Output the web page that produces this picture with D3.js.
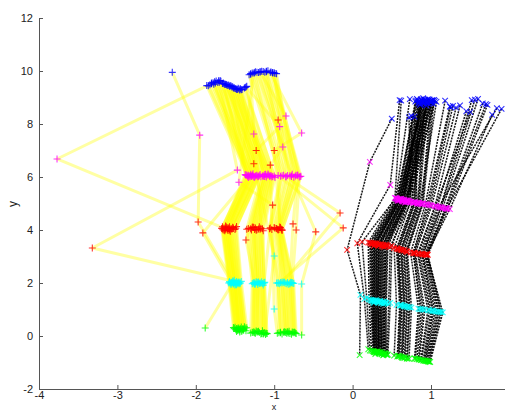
<!DOCTYPE html>
<html>
<head>
<meta charset="utf-8">
<script src="https://cdn.jsdelivr.net/npm/d3@7"></script>
<style>
  body { margin: 0; background: #fff; }
  svg { display: block; font-family: "Liberation Sans", Arial, sans-serif; }
</style>
</head>
<body>
<svg id="chart" width="505" height="412"></svg>
<script>
// Axis ticks
const xTicks = [-4, -3, -2, -1, 0, 1];
const yTicks = [-2, 0, 2, 4, 6, 8, 10, 12];

// Left figure: one entry per trial, markers "+" joined by yellow lines
const plusBlue = [
  [-1.84,9.44],[-1.80,9.55],[-1.77,9.50],[-1.74,9.62],[-1.72,9.57],[-1.69,9.64],[-1.66,9.53],[-1.63,9.49],
  [-1.60,9.45],[-1.57,9.42],[-1.54,9.40],[-1.50,9.34],[-1.47,9.30],[-1.43,9.33],[-1.82,9.48],[-1.68,9.61],
  [-1.86,9.45],[-1.78,9.56],[-1.71,9.63],[-1.64,9.52],[-1.59,9.47],[-1.52,9.36],[-1.76,9.59],
  [-1.62,9.50],[-1.58,9.46],[-1.55,9.43],[-1.51,9.37],[-1.48,9.31],[-1.44,9.28],[-1.41,9.30],[-1.38,9.36],
  [-1.35,9.42],[-1.65,9.55],[-1.53,9.41],[-1.46,9.35],
  [-1.61,9.49],[-1.56,9.44],[-1.49,9.33],[-1.42,9.29],[-1.37,9.38],
  [-1.32,9.86],[-1.28,9.92],[-1.24,9.97],[-1.20,9.94],[-1.16,9.99],[-1.12,9.95],[-1.08,10.01],[-1.04,9.96],
  [-1.00,9.93],[-0.97,9.90],[-1.30,9.90],[-1.18,9.97],[-1.10,9.99],[-1.02,9.92],
  [-2.30,9.95],[-1.80,9.52],[-1.70,9.58],[-1.10,9.97],[-1.25,9.93],[-1.14,9.98],[-1.05,9.95],[-1.30,9.88],
  [-1.22,9.95],[-1.36,9.40],[-1.26,9.92],[-1.18,9.96],[-1.75,9.55],[-1.02,9.94],[-0.99,9.91],[-1.45,9.32]
];
const plusMagenta = [
  [-1.32,6.05],[-1.29,6.02],[-1.35,6.08],[-1.26,6.00],[-1.30,6.10],[-1.24,6.04],[-1.33,5.98],[-1.22,6.07],
  [-1.27,6.12],[-1.20,6.03],[-1.36,6.06],[-1.18,6.09],[-1.25,5.99],[-1.23,6.05],[-1.31,6.01],[-1.28,6.08],
  [-1.34,6.03],[-1.28,6.06],[-1.21,6.01],[-1.37,6.09],[-1.19,6.05],[-1.27,6.03],[-1.33,6.07],
  [-1.15,6.04],[-1.10,6.00],[-1.12,6.09],[-1.06,6.03],[-1.08,6.11],[-1.02,6.02],[-1.04,6.06],[-0.99,5.98],
  [-1.14,6.05],[-1.17,6.01],[-1.09,6.07],[-1.05,6.04],
  [-1.13,6.02],[-1.07,6.08],[-1.03,6.00],[-1.11,6.10],[-1.00,6.04],
  [-0.92,6.03],[-0.88,6.07],[-0.85,6.00],[-0.80,6.05],[-0.77,6.10],[-0.73,6.04],[-0.70,6.08],[-0.67,6.02],
  [-0.83,6.06],[-0.75,5.99],[-0.90,6.05],[-0.78,6.02],[-0.72,6.07],[-0.66,6.03],
  [-1.95,7.58],[-3.77,6.68],[-1.47,6.26],[-0.85,6.02],[-0.95,6.06],[-0.78,6.04],[-0.65,7.66],[-1.26,7.62],
  [-0.89,7.13],[-0.93,7.90],[-1.45,5.80],[-0.85,8.30],[-1.30,6.05],[-0.70,6.05],[-0.68,6.00],[-1.12,6.02]
];
const plusRed = [
  [-1.64,4.08],[-1.60,4.03],[-1.66,4.12],[-1.57,4.00],[-1.62,4.15],[-1.55,4.06],[-1.59,3.98],[-1.53,4.10],
  [-1.58,4.05],[-1.50,4.02],[-1.65,4.00],[-1.48,4.13],[-1.56,3.95],[-1.52,4.08],[-1.61,4.11],[-1.63,4.01],
  [-1.67,4.06],[-1.59,4.09],[-1.54,4.03],[-1.66,4.04],[-1.49,4.07],[-1.57,4.12],[-1.63,3.97],
  [-1.30,4.05],[-1.25,4.02],[-1.28,4.10],[-1.20,4.04],[-1.23,3.99],[-1.17,4.07],[-1.19,4.12],[-1.14,3.97],
  [-1.33,4.06],[-1.35,4.03],[-1.26,4.09],[-1.22,4.01],
  [-1.29,4.00],[-1.24,4.08],[-1.18,4.03],[-1.27,4.11],[-1.15,4.05],
  [-1.06,4.05],[-1.03,4.02],[-1.00,4.09],[-0.97,4.06],[-0.95,4.00],[-0.93,4.11],[-0.91,4.04],[-0.90,3.98],
  [-0.99,4.07],[-0.94,4.02],[-1.05,4.08],[-0.96,4.03],[-0.92,4.09],[-0.90,4.01],
  [-1.97,4.30],[-1.62,4.04],[-3.32,3.32],[-0.16,4.64],[-0.12,4.08],[-0.47,3.93],[-1.00,7.00],[-1.26,6.50],
  [-1.05,6.45],[-1.23,7.00],[-1.02,4.94],[-0.95,8.15],[-1.91,3.89],[-0.76,4.23],[-0.72,4.00],[-1.36,3.62]
];
const plusCyan = [
  [-1.55,2.02],[-1.52,1.98],[-1.57,2.05],[-1.49,1.95],[-1.53,2.08],[-1.47,2.00],[-1.50,1.92],[-1.45,2.04],
  [-1.51,2.10],[-1.44,1.97],[-1.56,1.99],[-1.42,2.06],[-1.48,1.93],[-1.46,2.01],[-1.54,2.03],[-1.52,1.96],
  [-1.58,2.00],[-1.50,2.02],[-1.46,1.97],[-1.57,2.04],[-1.43,2.00],[-1.48,2.06],[-1.55,1.94],
  [-1.27,1.99],[-1.24,1.96],[-1.22,2.03],[-1.19,1.98],[-1.21,1.94],[-1.16,2.05],[-1.18,2.00],[-1.14,1.92],
  [-1.26,2.02],[-1.28,1.97],[-1.20,2.04],[-1.17,1.99],
  [-1.25,1.95],[-1.21,2.01],[-1.15,1.98],[-1.23,2.05],[-1.13,2.01],
  [-0.97,2.00],[-0.93,1.97],[-0.90,2.04],[-0.86,1.99],[-0.83,2.02],[-0.80,1.96],[-0.78,2.01],[-0.76,1.98],
  [-0.88,2.03],[-0.82,1.95],[-0.95,2.02],[-0.84,1.97],[-0.79,2.03],[-0.75,1.99],
  [-1.52,2.05],[-1.50,2.00],[-1.45,2.02],[-0.90,2.00],[-0.95,1.98],[-0.65,1.96],[-0.87,2.03],[-1.00,3.02],
  [-1.00,1.02],[-1.12,2.03],[-1.13,2.00],[-0.92,2.02],[-1.54,2.00],[-0.80,1.99],[-0.77,2.02],[-1.25,2.00]
];
const plusGreen = [
  [-1.48,0.28],[-1.45,0.22],[-1.50,0.33],[-1.42,0.18],[-1.46,0.30],[-1.40,0.25],[-1.44,0.15],[-1.38,0.35],
  [-1.43,0.27],[-1.36,0.20],[-1.49,0.24],[-1.35,0.31],[-1.41,0.19],[-1.39,0.26],[-1.47,0.21],[-1.45,0.29],
  [-1.52,0.32],[-1.44,0.24],[-1.39,0.22],[-1.51,0.28],[-1.37,0.30],[-1.42,0.34],[-1.48,0.17],
  [-1.28,0.14],[-1.24,0.10],[-1.20,0.18],[-1.17,0.08],[-1.22,0.15],[-1.13,0.12],[-1.15,0.20],[-1.11,0.06],
  [-1.26,0.16],[-1.30,0.11],[-1.19,0.13],[-1.16,0.09],
  [-1.25,0.12],[-1.21,0.16],[-1.14,0.10],[-1.23,0.19],[-1.09,0.09],
  [-0.94,0.12],[-0.90,0.08],[-0.87,0.16],[-0.84,0.10],[-0.81,0.18],[-0.78,0.07],[-0.75,0.14],[-0.73,0.11],
  [-0.86,0.13],[-0.80,0.09],[-0.92,0.14],[-0.82,0.11],[-0.77,0.15],[-0.72,0.09],
  [-1.88,0.30],[-1.45,0.25],[-1.40,0.28],[-0.85,0.15],[-0.92,0.12],[-0.65,0.04],[-0.83,0.16],[-1.12,0.12],
  [-0.96,0.10],[-1.10,0.10],[-1.14,0.08],[-0.88,0.14],[-1.47,0.26],[-0.76,0.12],[-0.74,0.14],[-1.27,0.13]
];

// Right figure: one entry per trial, markers "x" joined by dotted black lines
const crossBlue = [
  [0.80,8.85],[0.83,8.90],[0.85,8.80],[0.87,8.93],[0.89,8.86],[0.91,8.78],[0.93,8.91],[0.95,8.84],
  [0.97,8.88],[0.99,8.82],[1.01,8.90],[1.03,8.76],[0.82,8.95],[0.86,8.72],[0.90,8.97],[0.94,8.70],
  [0.98,8.93],[1.05,8.87],
  [0.81,8.88],[0.84,8.83],[0.88,8.91],[0.92,8.86],[0.96,8.94],[1.00,8.80],[1.02,8.89],[0.87,8.75],
  [0.91,8.92],[0.95,8.79],
  [0.72,8.25],[0.75,8.30],[0.88,8.83],[0.92,8.89],[0.96,8.80],[1.00,8.86],[1.04,8.91],[0.84,8.78],
  [1.07,8.84],[0.79,8.28],[0.86,8.85],[0.94,8.82],[1.02,8.88],
  [1.18,8.88],[1.25,8.65],[1.32,8.62],[1.37,8.70],[1.45,8.48],[1.52,8.90],[1.60,8.95],[1.66,8.78],
  [1.72,8.72],[1.78,8.35],[1.84,8.60],[1.90,8.57],[1.28,8.68],[1.56,8.92],[1.70,8.75],
  [0.50,8.20],[0.60,8.90],[0.73,8.94],[0.62,8.88],[1.50,8.45],[1.24,8.66]
];
const crossMagenta = [
  [0.57,5.15],[0.60,5.12],[0.62,5.18],[0.64,5.08],[0.66,5.14],[0.58,5.10],[0.68,5.11],[0.70,5.06],
  [0.61,5.16],[0.72,5.09],[0.63,5.13],[0.74,5.05],[0.56,5.19],[0.65,5.07],[0.59,5.17],[0.67,5.04],
  [0.69,5.12],[0.71,5.10],
  [0.58,5.13],[0.62,5.15],[0.63,5.10],[0.66,5.12],[0.60,5.16],[0.68,5.08],[0.70,5.11],[0.64,5.14],
  [0.57,5.18],[0.69,5.07],
  [0.74,5.06],[0.77,5.03],[0.80,5.05],[0.83,5.00],[0.85,5.02],[0.88,4.98],[0.90,5.01],[0.79,5.04],
  [0.86,4.99],[0.82,5.03],[0.78,5.04],[0.84,5.01],[0.89,4.99],
  [0.93,4.98],[0.97,4.95],[1.01,4.93],[1.05,4.90],[1.08,4.88],[1.12,4.85],[1.15,4.83],[1.18,4.82],
  [1.21,4.80],[1.24,4.79],[1.10,4.87],[1.20,4.81],[0.99,4.94],[1.13,4.86],[1.19,4.82],
  [0.22,6.57],[0.48,5.70],[0.55,5.20],[0.54,5.21],[1.06,4.91],[0.95,4.97]
];
const crossRed = [
  [0.24,3.48],[0.28,3.45],[0.31,3.50],[0.34,3.42],[0.36,3.46],[0.27,3.40],[0.39,3.44],[0.42,3.39],
  [0.30,3.47],[0.45,3.41],[0.33,3.43],[0.48,3.37],[0.22,3.52],[0.37,3.38],[0.26,3.49],[0.40,3.36],
  [0.43,3.45],[0.50,3.40],
  [0.25,3.47],[0.29,3.48],[0.32,3.44],[0.35,3.45],[0.28,3.50],[0.38,3.41],[0.41,3.43],[0.33,3.46],
  [0.23,3.51],[0.44,3.40],
  [0.53,3.32],[0.56,3.30],[0.59,3.27],[0.62,3.25],[0.65,3.22],[0.68,3.20],[0.70,3.18],[0.58,3.29],
  [0.66,3.24],[0.61,3.26],[0.57,3.30],[0.63,3.24],[0.69,3.19],
  [0.74,3.15],[0.77,3.13],[0.80,3.12],[0.83,3.10],[0.86,3.09],[0.89,3.08],[0.92,3.07],[0.94,3.06],
  [0.96,3.06],[0.95,3.10],[0.88,3.11],[0.93,3.08],[0.79,3.13],[0.90,3.08],[0.95,3.07],
  [-0.07,3.25],[0.06,3.50],[0.12,3.55],[0.20,3.53],[0.84,3.12],[0.78,3.14]
];
const crossCyan = [
  [0.25,1.33],[0.28,1.30],[0.30,1.35],[0.33,1.27],[0.35,1.31],[0.27,1.25],[0.38,1.29],[0.41,1.24],
  [0.31,1.32],[0.43,1.26],[0.34,1.28],[0.46,1.22],[0.23,1.36],[0.36,1.23],[0.26,1.34],[0.39,1.21],
  [0.40,1.30],[0.48,1.25],
  [0.26,1.31],[0.29,1.33],[0.32,1.29],[0.35,1.30],[0.28,1.34],[0.37,1.27],[0.40,1.28],[0.32,1.31],
  [0.24,1.35],[0.42,1.25],
  [0.56,1.18],[0.60,1.15],[0.63,1.16],[0.66,1.12],[0.69,1.10],[0.72,1.08],[0.75,1.07],[0.61,1.17],
  [0.70,1.11],[0.65,1.14],[0.62,1.16],[0.67,1.12],[0.73,1.09],
  [0.84,1.03],[0.88,1.01],[0.92,0.99],[0.96,0.97],[1.00,0.95],[1.03,0.94],[1.07,0.92],[1.10,0.91],
  [1.13,0.90],[1.15,0.89],[1.02,0.96],[1.09,0.93],[0.90,1.00],[1.05,0.93],[1.12,0.91],
  [0.10,1.55],[0.15,1.40],[0.18,1.45],[0.21,1.38],[0.98,0.98],[0.86,1.02]
];
const crossGreen = [
  [0.27,-0.60],[0.30,-0.63],[0.32,-0.58],[0.34,-0.66],[0.36,-0.61],[0.29,-0.68],[0.38,-0.64],[0.40,-0.70],
  [0.31,-0.59],[0.42,-0.67],[0.33,-0.62],[0.44,-0.72],[0.26,-0.57],[0.37,-0.69],[0.28,-0.60],[0.39,-0.73],
  [0.41,-0.65],[0.45,-0.70],
  [0.28,-0.62],[0.31,-0.60],[0.33,-0.64],[0.35,-0.63],[0.30,-0.59],[0.37,-0.66],[0.40,-0.67],[0.34,-0.61],
  [0.27,-0.58],[0.43,-0.69],
  [0.53,-0.74],[0.57,-0.78],[0.60,-0.76],[0.63,-0.81],[0.66,-0.83],[0.69,-0.85],[0.72,-0.86],[0.58,-0.75],
  [0.67,-0.80],[0.62,-0.79],[0.59,-0.77],[0.64,-0.82],[0.70,-0.85],
  [0.79,-0.84],[0.82,-0.87],[0.85,-0.89],[0.87,-0.91],[0.90,-0.93],[0.92,-0.94],[0.94,-0.95],[0.96,-0.96],
  [0.98,-0.97],[0.99,-0.98],[0.91,-0.92],[0.95,-0.95],[0.84,-0.88],[0.93,-0.94],[0.97,-0.96],
  [0.09,-0.72],[0.20,-0.50],[0.22,-0.55],[0.24,-0.56],[0.88,-0.90],[0.80,-0.86]
];

const markerColors = ["#0000ff", "#ff00ff", "#ff0000", "#00ffff", "#00ff00"];

const svg = d3.select("#chart");
const x = d3.scaleLinear().domain([-4, 2]).range([39, 509.4]);
const y = d3.scaleLinear().domain([-2, 12]).range([389, 18]);

// Axes (ticks pointing into the plot, no box)
const axisX = svg.append("g").attr("transform", "translate(0,389)")
  .call(d3.axisBottom(x).tickValues(xTicks).tickFormat(d => String(d))
    .tickSizeInner(-4).tickSizeOuter(0).tickPadding(2.5));
const axisY = svg.append("g").attr("transform", "translate(39,0)")
  .call(d3.axisLeft(y).tickValues(yTicks).tickFormat(d => String(d))
    .tickSizeInner(-4).tickSizeOuter(0).tickPadding(6));
[axisX, axisY].forEach(g => {
  g.selectAll("path, line").attr("stroke", "#555");
  g.selectAll("text").attr("fill", "#222").style("font-size", "11px")
    .style("font-family", "'Liberation Sans', Arial, sans-serif");
});

svg.append("text").attr("x", 274).attr("y", 410).attr("text-anchor", "middle")
  .attr("fill", "#222").style("font-size", "9px").text("x");
svg.append("text").attr("transform", "translate(17,204) rotate(-90)").attr("text-anchor", "middle")
  .attr("fill", "#222").style("font-size", "12px").text("y");

const line = d3.line().x(d => x(d[0])).y(d => y(d[1]));

// Regroup the per-joint arrays into one five-point path per trial
function trials(joints) {
  return joints[0].map((_, i) => joints.map(j => j[i]));
}

const plusJoints = [plusBlue, plusMagenta, plusRed, plusCyan, plusGreen];
const crossJoints = [crossBlue, crossMagenta, crossRed, crossCyan, crossGreen];

const plot = svg.append("g");

// Yellow connecting lines
plot.append("g").selectAll("path").data(trials(plusJoints)).join("path")
  .attr("d", line).attr("fill", "none")
  .attr("stroke", "#ffff00").attr("stroke-width", 3).attr("stroke-opacity", 0.36)
  .attr("stroke-linejoin", "round");

// Dotted black connecting lines
plot.append("g").selectAll("path").data(trials(crossJoints)).join("path")
  .attr("d", line).attr("fill", "none")
  .attr("stroke", "#000").attr("stroke-width", 1.5).attr("stroke-dasharray", "2,1")
  .attr("stroke-opacity", 0.9);

const plusShape = "M-3.5,0H3.5M0,-3.5V3.5";
const crossShape = "M-2.8,-2.8L2.8,2.8M-2.8,2.8L2.8,-2.8";

plusJoints.forEach((pts, k) => {
  plot.append("g").selectAll("path").data(pts).join("path")
    .attr("transform", d => `translate(${x(d[0])},${y(d[1])})`)
    .attr("d", plusShape).attr("fill", "none")
    .attr("stroke", markerColors[k]).attr("stroke-width", 1.1).attr("stroke-opacity", 0.8);
});
crossJoints.forEach((pts, k) => {
  plot.append("g").selectAll("path").data(pts).join("path")
    .attr("transform", d => `translate(${x(d[0])},${y(d[1])})`)
    .attr("d", crossShape).attr("fill", "none")
    .attr("stroke", markerColors[k]).attr("stroke-width", 1.1).attr("stroke-opacity", 0.8);
});
</script>
</body>
</html>
